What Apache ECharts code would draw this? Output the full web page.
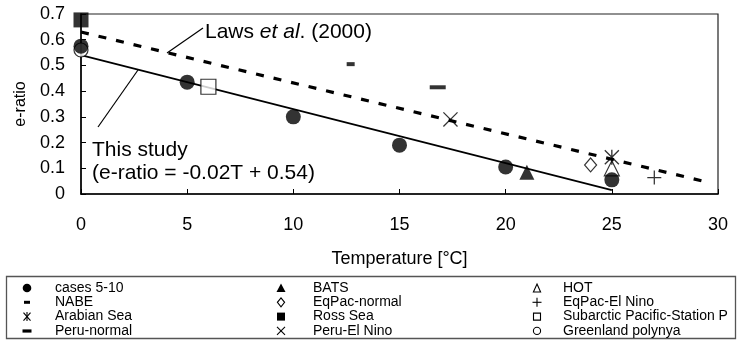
<!DOCTYPE html>
<html><head><meta charset="utf-8">
<script src="https://cdn.jsdelivr.net/npm/echarts@6/dist/echarts.min.js"></script>
<style>html,body{margin:0;padding:0;background:#fff}#c{width:742px;height:340px}</style>
</head><body><div id="c"></div>
<script>
// ---- data (temperature °C, e-ratio) ----
const casesData      = [[0,0.575],[5,0.435],[10,0.30],[15,0.19],[20,0.105],[25,0.055]];
const nabeData       = [[12.7,0.505]];
const arabianData    = [[25,0.143]];
const peruNormalData = [[16.8,0.415]];
const batsData       = [[21,0.085]];
const eqpacNormData  = [[24,0.113]];
const rossData       = [[0,0.677]];
const peruElNinoData = [[17.4,0.29]];
const hotData        = [[25,0.1]];
const eqpacElNinoData= [[27,0.064]];
const subarcticData  = [[6,0.417]];
const greenlandData  = [[0,0.56]];
const thisStudyLine  = [[0,0.54],[25,0.015]];
const lawsLine       = [[0,0.63],[29.4,0.048]];
const legendCol1 = ['cases 5-10','NABE','Arabian Sea','Peru-normal'];
const legendCol2 = ['BATS','EqPac-normal','Ross Sea','Peru-El Nino'];
const legendCol3 = ['HOT','EqPac-El Nino','Subarctic Pacific-Station P','Greenland polynya'];
const iconCol1 = ['dot','dashS','ast','dashL'];
const iconCol2 = ['tri','diamond','square','x'];
const iconCol3 = ['triOpen','plus','squareOpen','circleOpen'];

// ---- chart symbol paths (20x20 box) ----
function plusP(h){return `M${10-h},0H${10+h}V${10-h}H20V${10+h}H${10+h}V20H${10-h}V${10+h}H0V${10-h}H${10-h}Z`;}
function xP(d){return `M0,${d}L${d},0L20,${20-d}L${20-d},20Z M${20-d},0L20,${d}L${d},20L0,${20-d}Z`;}
function astP(h,d){return xP(d)+` M${10-h},0L${10+h},0L${10+h},20L${10-h},20Z`;}
const FONT = 'Liberation Sans';

const filled = {color:'#000', borderWidth:0};
const open = {color:'#fff', borderColor:'#000', borderWidth:1.2};

function sc(name, data, symbol, size, style, z){
  return {type:'scatter', name, data, symbol, symbolSize:size, itemStyle:style,
    z: z, silent:true, emphasis:{disabled:true}};
}

const series = [
  {type:'line', data:thisStudyLine, showSymbol:false, lineStyle:{color:'#000', width:1.6}, z:1, silent:true},
  {type:'line', data:lawsLine, showSymbol:false, lineStyle:{color:'#000', width:3.2, type:[8,10]}, z:1, silent:true},
  sc('Greenland polynya', greenlandData, 'circle', 14, open, 2),
  sc('HOT', hotData, 'triangle', 15, open, 2),
  sc('cases 5-10', casesData, 'circle', 15, filled, 4),
  sc('NABE', nabeData, 'rect', [8,4], filled, 3),
  sc('Arabian Sea', arabianData, 'path://'+astP(0.9,1.25), 15, filled, 5),
  sc('Peru-normal', peruNormalData, 'rect', [16,4], filled, 3),
  sc('BATS', batsData, 'triangle', 15, filled, 3),
  sc('EqPac-normal', eqpacNormData, 'diamond', [12,14], open, 3),
  sc('Ross Sea', rossData, 'rect', 15, filled, 3),
  sc('Peru-El Nino', peruElNinoData, 'path://'+xP(1.2), 15, filled, 3),
  sc('EqPac-El Nino', eqpacElNinoData, 'path://'+plusP(0.9), 14, filled, 3),
  sc('Subarctic Pacific-Station P', subarcticData, 'rect', 15, open, 3)
];

// ---- legend layout ----
const LEG_TOP = 281, ROW = 14.3;
function legendAt(left, names){
  return {data:names, orient:'vertical', left:left, top:LEG_TOP, padding:0, icon:'none',
    itemWidth:46, itemHeight:9, itemGap:ROW-14, selectedMode:false,
    textStyle:{fontFamily:FONT, fontSize:14, color:'#000', lineHeight:14}};
}
const LS = {stroke:'#000', lineWidth:1.1};
function legendIcon(kind, cx, cy){
  const f = {fill:'#000'}, o = {fill:'#fff', stroke:'#000', lineWidth:1.1};
  switch(kind){
    case 'dot': return [{type:'circle', shape:{cx, cy, r:4.3}, style:f}];
    case 'circleOpen': return [{type:'circle', shape:{cx, cy, r:3.6}, style:o}];
    case 'dashS': return [{type:'rect', shape:{x:cx-3, y:cy-1.5, width:6, height:3}, style:f}];
    case 'dashL': return [{type:'rect', shape:{x:cx-4.5, y:cy-1.5, width:9, height:3.2}, style:f}];
    case 'square': return [{type:'rect', shape:{x:cx-4, y:cy-4, width:8, height:8}, style:f}];
    case 'squareOpen': return [{type:'rect', shape:{x:cx-3.5, y:cy-3.5, width:7, height:7}, style:o}];
    case 'tri': return [{type:'polygon', shape:{points:[[cx,cy-4.5],[cx+4.5,cy+4],[cx-4.5,cy+4]]}, style:f}];
    case 'triOpen': return [{type:'polygon', shape:{points:[[cx,cy-4],[cx+3.6,cy+4],[cx-3.6,cy+4]]}, style:o}];
    case 'diamond': return [{type:'polygon', shape:{points:[[cx,cy-4.5],[cx+3.6,cy],[cx,cy+4.5],[cx-3.6,cy]]}, style:o}];
    case 'x': return [
      {type:'line', shape:{x1:cx-4, y1:cy-4, x2:cx+4, y2:cy+4}, style:LS},
      {type:'line', shape:{x1:cx+4, y1:cy-4, x2:cx-4, y2:cy+4}, style:LS}];
    case 'plus': return [
      {type:'line', shape:{x1:cx-4.5, y1:cy, x2:cx+4.5, y2:cy}, style:LS},
      {type:'line', shape:{x1:cx, y1:cy-4.5, x2:cx, y2:cy+4.5}, style:LS}];
    case 'ast': return [
      {type:'line', shape:{x1:cx-3.5, y1:cy-4, x2:cx+3.5, y2:cy+4}, style:LS},
      {type:'line', shape:{x1:cx+3.5, y1:cy-4, x2:cx-3.5, y2:cy+4}, style:LS},
      {type:'line', shape:{x1:cx, y1:cy-4.5, x2:cx, y2:cy+4.5}, style:LS}];
  }
  return [];
}
const iconGraphics = [];
[[iconCol1, 27], [iconCol2, 281], [iconCol3, 537]].forEach(([kinds, cx]) => {
  kinds.forEach((k, i) => {
    legendIcon(k, cx, LEG_TOP + 7 + i*ROW).forEach(g => { g.silent = true; g.z = 20; iconGraphics.push(g); });
  });
});

const chart = echarts.init(document.getElementById('c'), null, {renderer:'canvas'});
chart.setOption({
  animation:false,
  backgroundColor:'#fff',
  grid:{left:81, right:24, top:14, bottom:146, show:true, borderColor:'#222', borderWidth:1.2, backgroundColor:'transparent'},
  xAxis:{type:'value', min:0, max:30, interval:5,
    name:'Temperature [°C]', nameLocation:'middle', nameGap:56,
    nameTextStyle:{fontFamily:FONT, fontSize:18, color:'#000'},
    axisLine:{show:true, onZero:false, lineStyle:{color:'#000', width:1.5}},
    axisTick:{show:true, inside:true, length:5, lineStyle:{color:'#000', width:1}},
    axisLabel:{fontFamily:FONT, fontSize:18, color:'#000', margin:22},
    splitLine:{show:false}},
  yAxis:{type:'value', min:0, max:0.7, interval:0.1,
    name:'e-ratio', nameLocation:'middle', nameGap:50, nameRotate:90,
    nameTextStyle:{fontFamily:FONT, fontSize:16, color:'#000'},
    axisLine:{show:true, onZero:false, lineStyle:{color:'#000', width:1.5}},
    axisTick:{show:true, inside:true, length:5, lineStyle:{color:'#000', width:1}},
    axisLabel:{fontFamily:FONT, fontSize:18, color:'#000', margin:16},
    splitLine:{show:false}},
  legend:[legendAt(4, legendCol1), legendAt(262, legendCol2), legendAt(512, legendCol3)],
  series: series,
  graphic:[
    {type:'rect', shape:{x:6.5, y:276.5, width:729, height:62}, style:{fill:'none', stroke:'#555', lineWidth:1.3}, silent:true},
    {type:'line', shape:{x1:203, y1:28, x2:167, y2:53}, style:{stroke:'#000', lineWidth:1.2}, silent:true, z:10},
    {type:'line', shape:{x1:98, y1:127, x2:138, y2:70}, style:{stroke:'#000', lineWidth:1.2}, silent:true, z:10},
    {type:'text', x:205, y:32, silent:true, z:10, style:{text:'{n|Laws }{i|et al}{n|. (2000)}', verticalAlign:'middle', align:'left',
      fill:'#000', font:'21px '+FONT,
      rich:{n:{fontFamily:FONT, fontSize:21, fill:'#000'}, i:{fontFamily:FONT, fontSize:21, fontStyle:'italic', fill:'#000'}}}},
    {type:'text', x:92, y:150, silent:true, z:10, style:{text:'This study', verticalAlign:'middle', align:'left', fill:'#000', font:'21px '+FONT}},
    {type:'text', x:92, y:173, silent:true, z:10, style:{text:'(e-ratio = -0.02T + 0.54)', verticalAlign:'middle', align:'left', fill:'#000', font:'21px '+FONT}}
  ].concat(iconGraphics)
});
</script></body></html>
